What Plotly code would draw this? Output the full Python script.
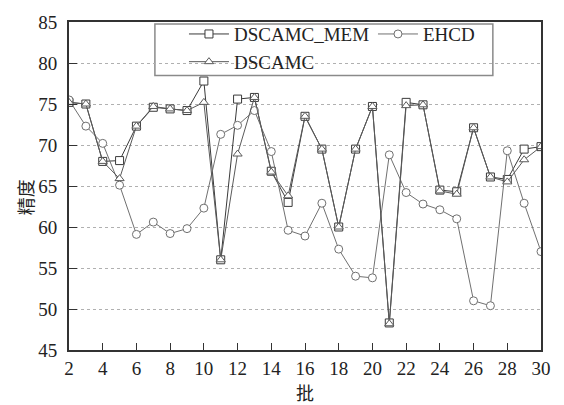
import plotly.graph_objects as go

batches = list(range(2, 31))
dscamc_mem = [75.2, 75.0, 68.0, 68.1, 72.3, 74.6, 74.4, 74.2, 77.8, 56.0,
              75.6, 75.8, 66.8, 63.0, 73.5, 69.5, 60.0, 69.5, 74.7, 48.3,
              75.2, 74.9, 64.5, 64.3, 72.1, 66.1, 65.8, 69.5, 69.8]
ehcd = [75.5, 72.3, 70.2, 65.1, 59.1, 60.6, 59.2, 59.8, 62.3, 71.3,
        72.4, 74.2, 69.2, 59.6, 58.9, 62.9, 57.3, 54.0, 53.8, 68.8,
        64.2, 62.8, 62.1, 61.0, 51.0, 50.4, 69.3, 62.9, 57.0]
dscamc = [75.2, 75.0, 68.0, 65.9, 72.3, 74.7, 74.4, 74.2, 75.2, 56.0,
          68.9, 75.8, 66.7, 63.8, 73.5, 69.5, 60.0, 69.5, 74.7, 48.2,
          74.8, 74.9, 64.4, 64.0, 72.1, 66.1, 65.5, 68.2, 69.8]
x_ticks = list(range(2, 31, 2))
y_ticks = list(range(45, 86, 5))

serif = "Liberation Serif, Times New Roman, serif"
cjk = "Noto Sans CJK SC"

fig = go.Figure()
series = [
    ("DSCAMC_MEM", dscamc_mem, "square", "#3a3a3a", 134),
    ("EHCD", ehcd, "circle", "#707070", 55),
    ("DSCAMC", dscamc, "triangle-up", "#5a5a5a", 134),
]
for name, vals, sym, col, lw in series:
    fig.add_trace(go.Scatter(
        x=batches, y=vals, name=name, mode="lines+markers",
        line=dict(color=col, width=1),
        marker=dict(symbol=sym, size=8, color="white",
                    line=dict(color=col, width=1)),
        legendwidth=lw,
    ))

# legend frame
fig.add_shape(type="rect", xref="paper", yref="paper",
              x0=0.182, x1=0.898, y0=0.837, y1=0.994,
              line=dict(color="#8a8a8a", width=1.5), fillcolor="white",
              layer="between")

fig.update_layout(
    width=564, height=405,
    margin=dict(l=69, r=23, t=17, b=51),
    paper_bgcolor="white", plot_bgcolor="white",
    font=dict(family=serif, size=19, color="#222222"),
    legend=dict(
        orientation="h", x=0.2436, y=1.021, xanchor="left", yanchor="top",
        borderwidth=0, bgcolor="rgba(0,0,0,0)",
        font=dict(family=serif, size=19, color="#222222"),
        itemwidth=40, tracegroupgap=0,
    ),
    annotations=[dict(
        text="精度", textangle=-90, xref="paper", yref="paper",
        x=-0.093, y=0.466, xanchor="center", yanchor="middle", showarrow=False,
        font=dict(family=cjk, size=18, color="#222222"),
    )],
)
fig.update_xaxes(
    range=[2, 30], tickvals=x_ticks, ticks="inside", ticklen=7,
    tickcolor="#333333", showline=True, linecolor="#333333", linewidth=2,
    mirror=True, showgrid=False, zeroline=False,
    tickfont=dict(family=serif, size=19),
    title=dict(text="批", font=dict(family=cjk, size=18, color="#222222"), standoff=2),
)
fig.update_yaxes(
    range=[45, 85], tickvals=y_ticks, ticks="inside", ticklen=8,
    tickcolor="#333333", showline=True, linecolor="#333333", linewidth=2,
    mirror=True, showgrid=True, gridcolor="#b0b0b0", gridwidth=1,
    griddash="3px,3px", zeroline=False,
    tickfont=dict(family=serif, size=19), ticklabelstandoff=6,
)

fig.write_html("out.html")
